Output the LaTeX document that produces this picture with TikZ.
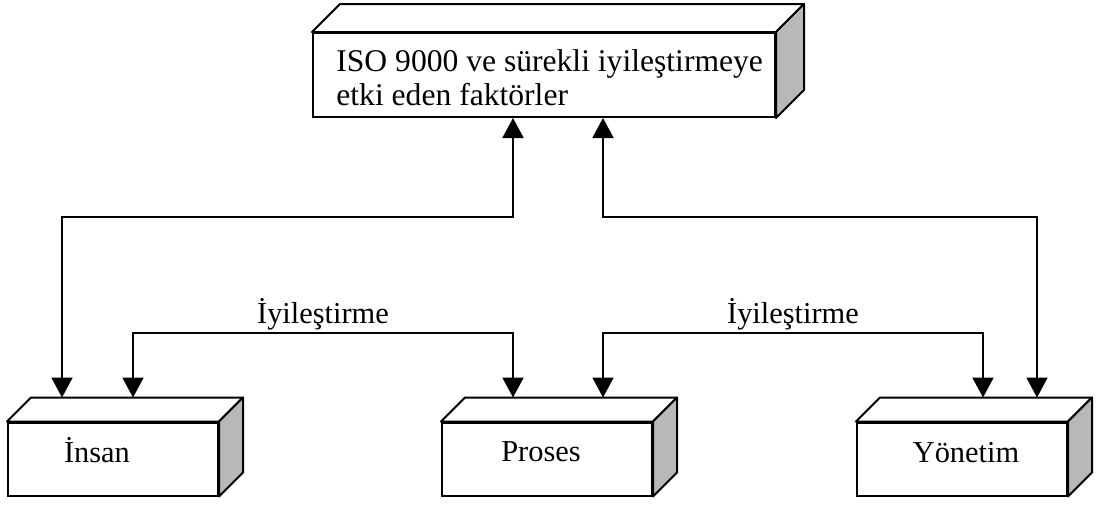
\documentclass[tikz,border=0pt]{standalone}
\usepackage{fontspec}
\setmainfont{Liberation Serif}
\usepackage{tikz}
\usetikzlibrary{arrows.meta}

\tikzset{
	kutu/.style={draw, line width=1pt, fill=white, minimum width=105pt, minimum height=36.5pt, inner sep=0pt},
	yuz/.style={draw, line width=1pt, fill=white, line join=round},
	yan/.style={draw, line width=1pt, fill=black!28, line join=round},
	yazi/.style={inner sep=0pt, anchor=base},
	cift/.style={line width=1pt, {Triangle[length=10pt,width=10.5pt]}-{Triangle[length=10pt,width=10.5pt]}},
}

\begin{document}
\begin{tikzpicture}[x=0.5pt, y=-0.5pt, font=\fontsize{15.2}{16.5}\selectfont]
			\useasboundingbox (0,0) rectangle (1096,505);

			\node[kutu, minimum width=231pt, minimum height=42pt] (iso) at (544,75) {};
			\node[kutu] (insan) at (113,459) {};
			\node[kutu] (proses) at (547,459) {};
			\node[kutu] (yonetim) at (962,459) {};

			\draw[yuz] (iso.north west) -- ++(14pt,14pt) -- ([shift={(14pt,14pt)}]iso.north east) -- (iso.north east) -- cycle;
			\draw[yan] (iso.north east) -- ++(14pt,14pt) -- ([shift={(14pt,14pt)}]iso.south east) -- (iso.south east) -- cycle;

			\foreach \k in {insan,proses,yonetim}
			{
				\draw[yuz] (\k.north west) -- ++(12pt,12pt) -- ([shift={(12pt,12pt)}]\k.north east) -- (\k.north east) -- cycle;
				\draw[yan] (\k.north east) -- ++(12pt,12pt) -- ([shift={(12pt,12pt)}]\k.south east) -- (\k.south east) -- cycle;
			}

			\node[inner sep=0pt, anchor=north west, align=left, font=\fontsize{15.8}{17}\selectfont] (isoyazi) at ([shift={(12pt,-8.5pt)}]iso.north west) {ISO 9000 ve sürekli iyileştirmeye\\etki eden faktörler};
			\node[yazi] (insanyazi) at (97,462) {İnsan};
			\node[yazi] (prosesyazi) at (541,461) {Proses};
			\node[yazi] (yonetimyazi) at (966,462) {Yönetim};

			\coordinate (ust) at (0,217);
			\coordinate (alt) at (0,333);

			\coordinate (iso1) at ([xshift=-15.5pt]iso.south);
			\coordinate (iso2) at ([xshift=29.5pt]iso.south);
			\coordinate (ins1) at ([shift={(-25.5pt,12pt)}]insan.north);
			\coordinate (ins2) at ([shift={(10pt,12pt)}]insan.north);
			\coordinate (pro1) at ([shift={(-17pt,12pt)}]proses.north);
			\coordinate (pro2) at ([shift={(28pt,12pt)}]proses.north);
			\coordinate (yon1) at ([shift={(10.5pt,12pt)}]yonetim.north);
			\coordinate (yon2) at ([shift={(37.5pt,12pt)}]yonetim.north);

			\draw[cift] (ins1) -- (ins1 |- ust) -| (iso1);
			\draw[cift] (yon2) -- (yon2 |- ust) -| (iso2);

			\draw[cift] (ins2) -- (ins2 |- alt) -| (pro1) node[pos=0.25, above, inner sep=1pt] {İyileştirme};
			\draw[cift] (pro2) -- (pro2 |- alt) -| (yon1) node[pos=0.25, above, inner sep=1pt] {İyileştirme};
		\end{tikzpicture}
\end{document}
